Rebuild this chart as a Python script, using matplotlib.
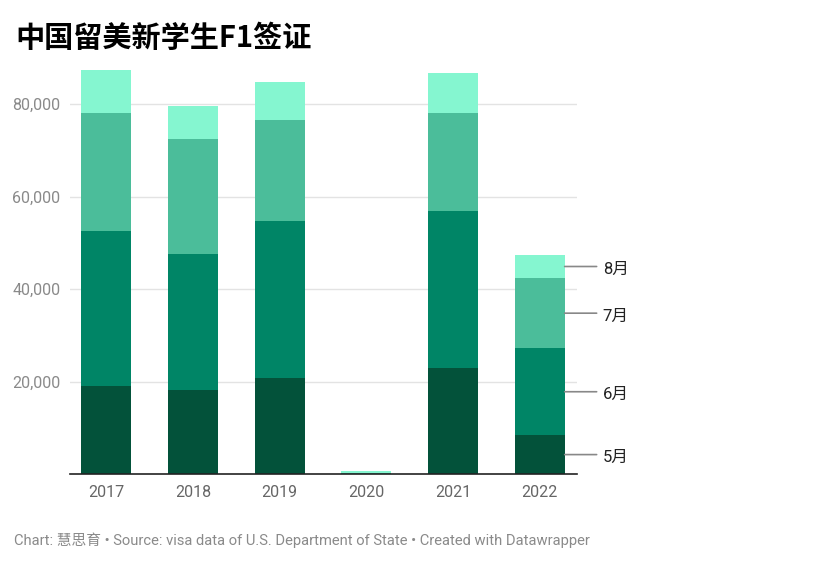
import matplotlib.pyplot as plt
import matplotlib.transforms as mtransforms
import numpy as np

years = ['2017', '2018', '2019', '2020', '2021', '2022']
months = ['5月', '6月', '7月', '8月']
may = [19000, 18200, 20800, 20, 22900, 8400]
jun = [33500, 29400, 33900, 60, 34000, 18800]
jul = [25600, 24800, 21800, 150, 21200, 15200]
aug = [9300, 7200, 8300, 350, 8600, 5000]
colors = ['#03523a', '#008566', '#4bbd9a', '#85f6d0']

plt.rcParams['font.family'] = ['Roboto', 'Noto Sans CJK SC', 'DejaVu Sans']

fig = plt.figure(figsize=(8.31, 5.63), dpi=100)
ax = fig.add_axes([70 / 831, 89 / 563, 507 / 831, 409 / 563])

x = np.arange(len(years))
bottom = np.zeros(len(years))
series = [may, jun, jul, aug]
for vals, c in zip(series, colors):
    ax.bar(x, vals, width=0.575, bottom=bottom, color=c, zorder=2)
    bottom = bottom + np.array(vals)

ax.set_xlim(-0.42, 5.43)
ax.set_ylim(0, 88500)
ax.set_yticks([20000, 40000, 60000, 80000])
ax.set_yticklabels(['20,000', '40,000', '60,000', '80,000'])
ax.set_xticks(x)
ax.set_xticklabels(years)
ax.grid(axis='y', color='#e3e3e3', linewidth=1, zorder=0)
for s in ['top', 'right', 'left']:
    ax.spines[s].set_visible(False)
ax.spines['bottom'].set_color('#222222')
ax.spines['bottom'].set_linewidth(1.2)
ax.tick_params(axis='y', length=0, labelsize=11.5, labelcolor='#8a8a8a', pad=7)
ax.tick_params(axis='x', length=0, labelsize=11.5, labelcolor='#666666', pad=8)

# month labels next to the last bar
last = len(years) - 1
edge = last + 0.2875
b = 0
for vals, m in zip(series, months):
    mid = b + vals[last] / 2
    b += vals[last]
    ax.annotate('', xy=(edge, mid), xycoords='data',
                xytext=(32, 0), textcoords='offset pixels',
                annotation_clip=False,
                arrowprops=dict(arrowstyle='-', color='#888888', lw=1.2,
                                shrinkA=0, shrinkB=0))
    ax.annotate(m, xy=(edge, mid), xycoords='data',
                xytext=(38, -3), textcoords='offset pixels',
                va='center', ha='left', fontsize=12, color='#222222',
                annotation_clip=False)

fig.text(15 / 831, 1 - 38 / 563, '中国留美新学生F1签证', fontsize=21,
         fontweight='bold', va='center', ha='left',
         family=['Noto Sans CJK SC', 'DejaVu Sans'])
fig.text(14 / 831, 1 - 540 / 563,
         'Chart: 慧思育 • Source: visa data of U.S. Department of State • Created with Datawrapper',
         fontsize=10.6, color='#8a8a8a', va='center', ha='left')

fig.savefig('out.png', dpi=100)
